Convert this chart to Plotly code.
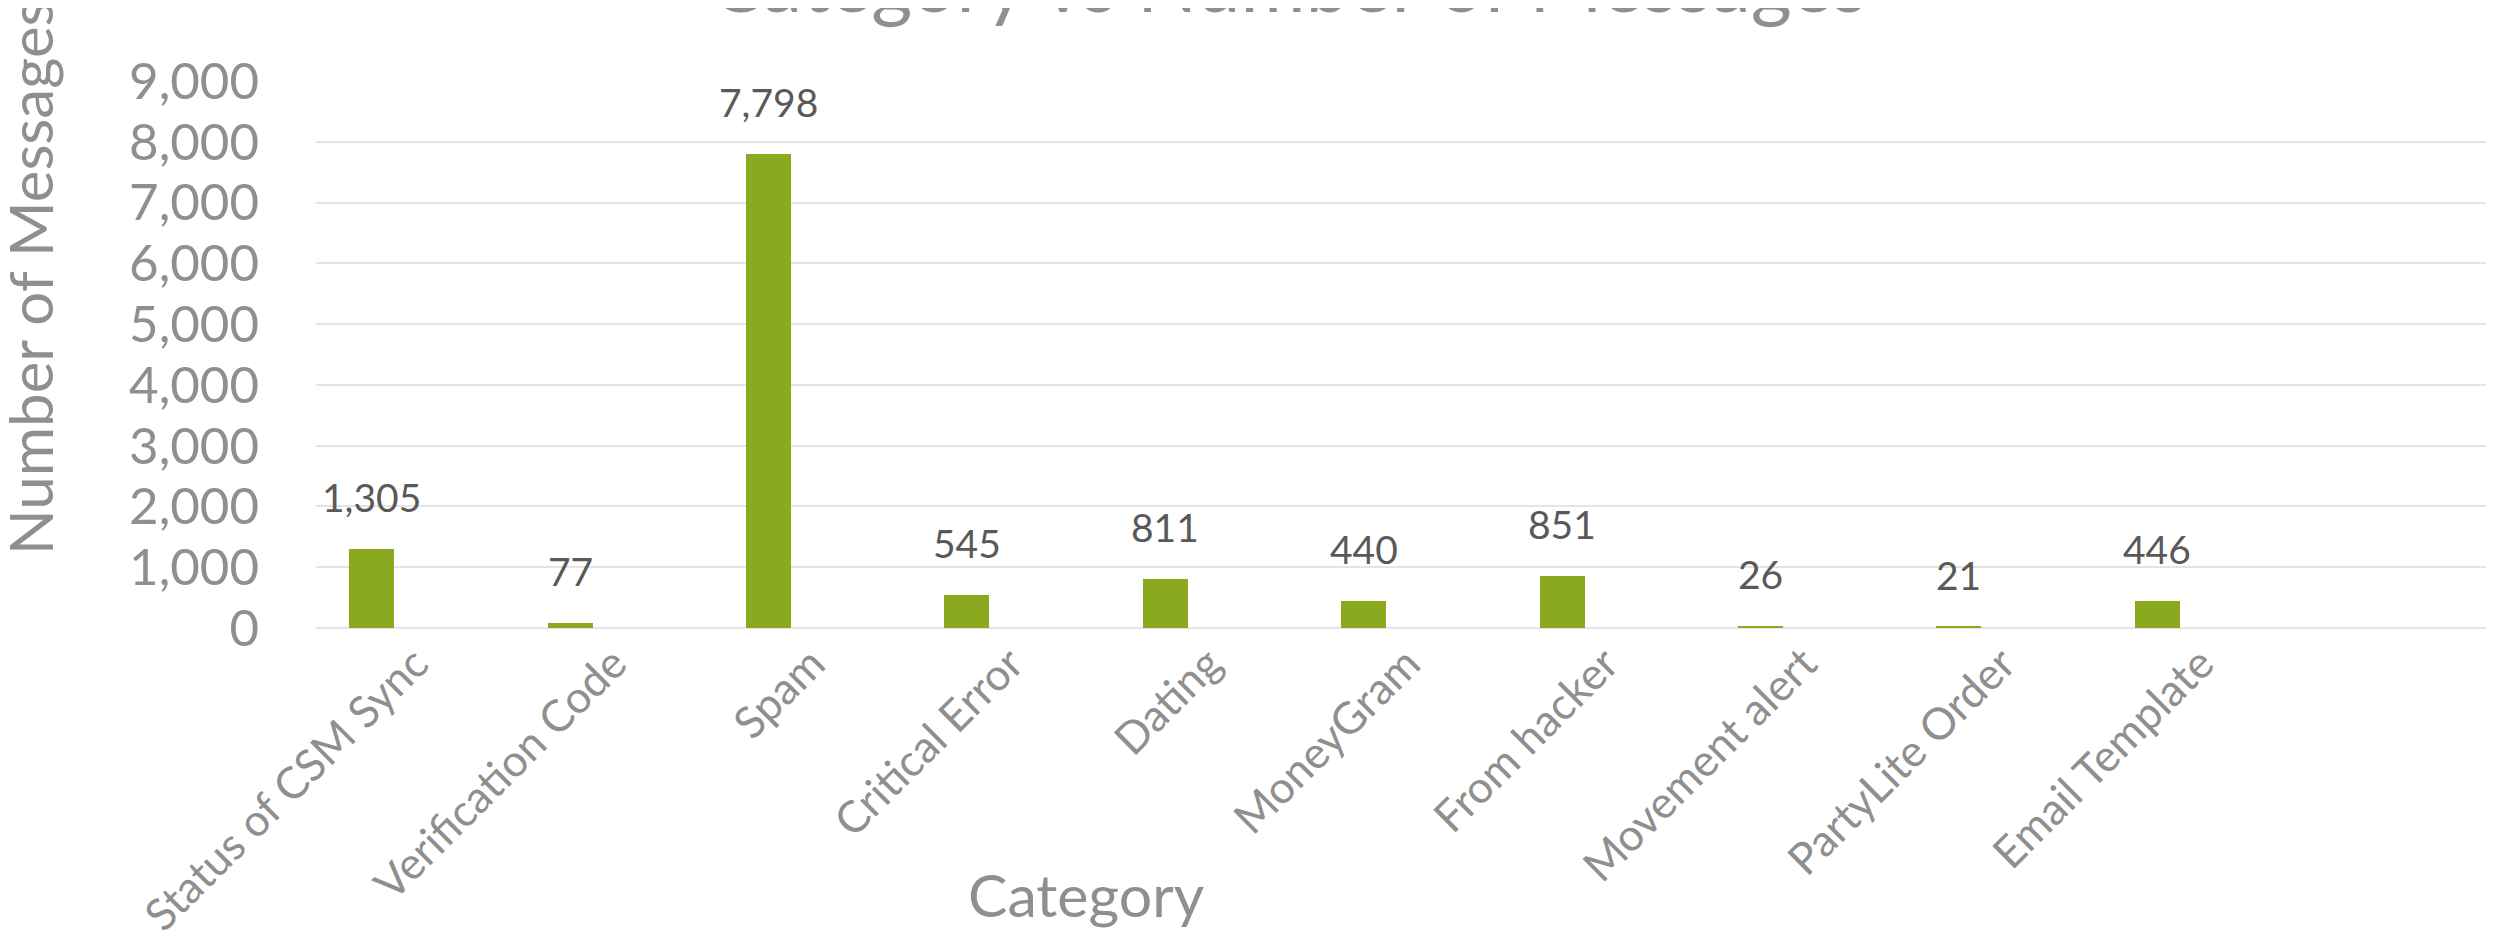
import plotly.graph_objects as go

categories = ["Status of CSM Sync", "Verification Code", "Spam", "Critical Error", "Dating",
              "MoneyGram", "From hacker", "Movement alert", "PartyLite Order", "Email Template"]
messages = [1305, 77, 7798, 545, 811, 440, 851, 26, 21, 446]
y_ticks = [0, 1000, 2000, 3000, 4000, 5000, 6000, 7000, 8000, 9000]

title_text = "Category vs Number of Messages"
x_title = "Category"
y_title = "Number of Messages"

FONT = "Lato"
BAR = "#8BA91E"
AXIS_GRAY = "#8F8F8F"
LABEL_GRAY = "#595959"
GRID = "#E4E4E4"

# page has an 8px body margin; figure coordinates are page coordinates minus 8
W, H = 2486, 940
L, T = 308, 73
PLOT_W = W - L
PLOT_H = 547
B = H - T - PLOT_H

idx = list(range(len(categories)))
BAR_W = 0.227
BAR_OFF = -0.333

fig = go.Figure()
fig.add_trace(go.Bar(
    x=idx, y=messages,
    width=BAR_W, offset=BAR_OFF,
    marker=dict(color=BAR, line=dict(width=0)),
    hoverinfo="x+y",
))

annotations = []
for i, v in zip(idx, messages):
    annotations.append(dict(
        x=i + BAR_OFF + BAR_W / 2, y=v, xref="x", yref="y",
        text=f"{v:,}", showarrow=False, xanchor="center", yanchor="bottom",
        yshift=27, font=dict(family=FONT, size=39, color=LABEL_GRAY),
    ))

annotations.append(dict(
    x=(1288 - 8 - L) / PLOT_W, y=1, xref="paper", yref="paper", text=title_text,
    showarrow=False, xanchor="center", yanchor="bottom", yshift=50,
    font=dict(family=FONT, size=79, color=AXIS_GRAY),
))
annotations.append(dict(
    x=(1086 - 8 - L) / PLOT_W, y=0, xref="paper", yref="paper", text=x_title,
    showarrow=False, xanchor="center", yanchor="bottom", yshift=-304,
    font=dict(family=FONT, size=59, color=AXIS_GRAY),
))
annotations.append(dict(
    x=(30 - 8 - L) / PLOT_W, y=(T + PLOT_H - (278 - 8)) / PLOT_H, xref="paper", yref="paper",
    text=y_title, showarrow=False, textangle=-90, xanchor="center", yanchor="middle",
    font=dict(family=FONT, size=60, color=AXIS_GRAY),
))

fig.update_layout(
    width=W, height=H,
    margin=dict(l=L, r=0, t=T, b=B, autoexpand=False),
    paper_bgcolor="white", plot_bgcolor="white",
    showlegend=False,
    bargap=0,
    annotations=annotations,
    xaxis=dict(
        range=[-0.5, -0.5 + PLOT_W / 198.4],
        tickmode="array", tickvals=idx, ticktext=categories,
        tickangle=-45,
        tickfont=dict(family=FONT, size=44, color=AXIS_GRAY),
        showgrid=False, zeroline=False, showline=False, ticks="",
        automargin=False,
    ),
    yaxis=dict(
        range=[0, 9000],
        tickmode="array", tickvals=y_ticks, ticktext=[f"{t:,}" for t in y_ticks],
        tickfont=dict(family=FONT, size=51, color=AXIS_GRAY),
        showgrid=True, gridcolor=GRID, gridwidth=2,
        zeroline=True, zerolinecolor=GRID, zerolinewidth=2,
        showline=False, ticks="", ticklabelstandoff=56,
        automargin=False,
    ),
)

fig.write_html("out.html")
